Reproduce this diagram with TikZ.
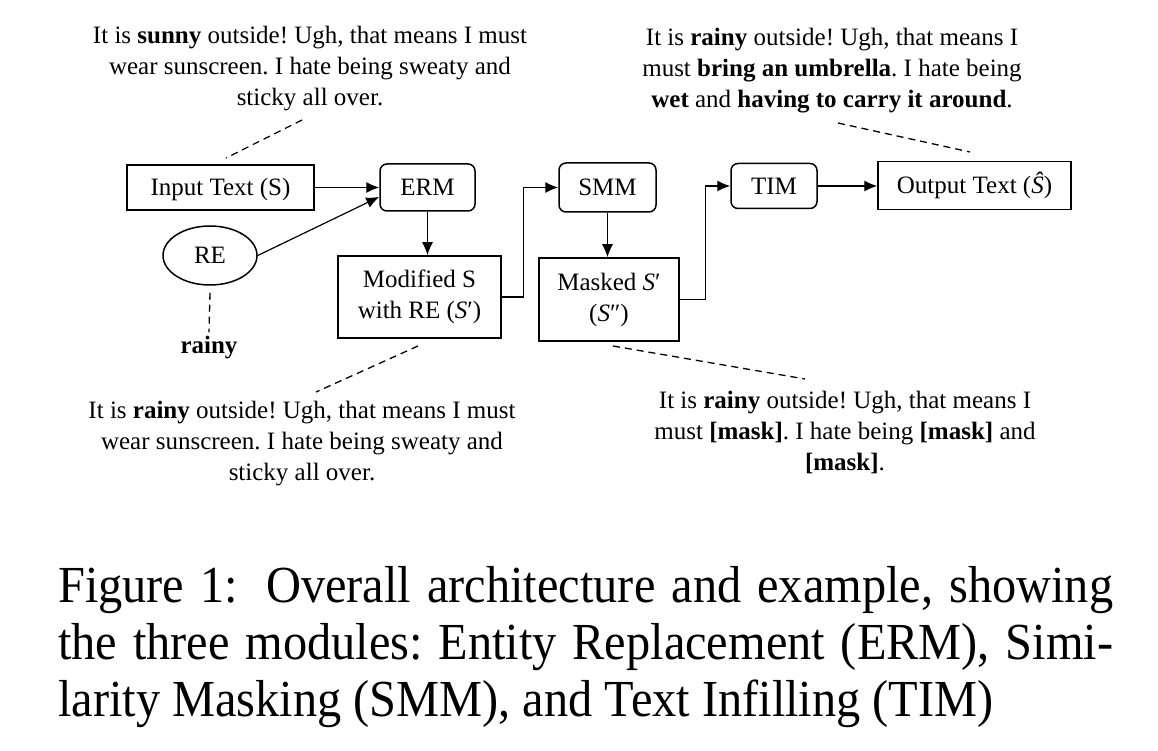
\documentclass[tikz,border=0pt]{standalone}
\usepackage{fontspec}
\setmainfont{Liberation Serif}
\newfontfamily\capfont[FakeStretch=0.93]{Liberation Serif}
\usetikzlibrary{arrows.meta,shapes.geometric}
\frenchspacing
\tikzset{
  txt/.style={font=\fontsize{25}{31}\selectfont, inner sep=0pt, align=center},
  sqbox/.style={draw, line width=1.5pt, font=\fontsize{25}{31}\selectfont, inner sep=0pt, align=center},
  onel/.style={text height=16.5pt, text depth=0pt},
  rbox/.style={sqbox, onel, rounded corners=7pt},
  arr/.style={line width=1.2pt, -{Latex[length=13pt,width=11pt]}},
  dsh/.style={line width=1.3pt, dash pattern=on 7pt off 5pt},
  capline/.style={anchor=base west, inner sep=0pt, font=\capfont\fontsize{52}{57}\selectfont}
}
\begin{document}
\begin{tikzpicture}[x=1pt,y=-1pt]
\useasboundingbox (0,0) rectangle (1158,751);
% main nodes
\node[sqbox, onel, minimum width=187pt, minimum height=45pt] (input) at (220.5,187.5) {Input Text (S)};
\node[rbox, minimum width=95pt, minimum height=47pt] (erm) at (427.5,187.5) {ERM};
\node[draw, ellipse, line width=1.5pt, minimum width=94pt, minimum height=59pt, inner sep=0pt, onel, font=\fontsize{25}{31}\selectfont] (re) at (210,255.5) {RE};
\node[txt, font=\bfseries\fontsize{25}{31}\selectfont] (rainy) at (209,348) {rainy};
\node[sqbox, minimum width=163pt, minimum height=82pt] (mod) at (419.5,297) {Modified S\\with RE (\textit{S}′)};
\node[rbox, minimum width=97pt, minimum height=49pt] (smm) at (607.5,187.5) {SMM};
\node[sqbox, minimum width=140pt, minimum height=83pt] (mask) at (609,299.5) {Masked \textit{S}′\\(\textit{S}″)};
\node[rbox, minimum width=86pt, minimum height=45pt] (tim) at (774,186) {TIM};
\node[sqbox, onel, minimum width=193pt, minimum height=48pt] (out) at (974.5,185.5) {Output Text (\textit{Ŝ})};
% annotations
\node[txt] (a1) at (310,69) {It is \textbf{sunny} outside! Ugh, that means I must\\wear sunscreen. I hate being sweaty and\\sticky all over.};
\node[txt] (a2) at (832,71) {It is \textbf{rainy} outside! Ugh, that means I\\must \textbf{bring an umbrella}. I hate being\\\textbf{wet} and \textbf{having to carry it around}.};
\node[txt] (a3) at (302,444) {It is \textbf{rainy} outside! Ugh, that means I must\\wear sunscreen. I hate being sweaty and\\sticky all over.};
\node[txt] (a4) at (845,432) {It is \textbf{rainy} outside! Ugh, that means I\\must \textbf{[mask]}. I hate being \textbf{[mask]} and\\\textbf{[mask]}.};
% dashed leader end points
\coordinate (d1a) at (302,120);
\coordinate (d1b) at (226,158);
\coordinate (d2a) at (838,123);
\coordinate (d2b) at (970,152);
\coordinate (d3a) at (418,346);
\coordinate (d3b) at (316,392);
\coordinate (d4a) at (613,346);
\coordinate (d4b) at (805,379);
\draw[dsh] (d1a) -- (d1b);
\draw[dsh] (d2a) -- (d2b);
\draw[dsh] (d3a) -- (d3b);
\draw[dsh] (d4a) -- (d4b);
\draw[dsh] ([yshift=-7pt]re.south) -- ([yshift=4pt]rainy.north);
% arrows
\draw[arr] (input.east) -- (erm.west);
\draw[arr] (re.east) -- (erm.191);
\draw[arr] (erm.south) -- (erm.south |- mod.north);
\draw[arr] (mod.east) -- ++(22,0) |- (smm.west);
\draw[arr] (smm.south) -- (smm.south |- mask.north);
\draw[arr] (mask.east) -- ++(26,0) |- (tim.west);
\draw[arr] (tim.east) -- (tim.east -| out.west);
% caption
\node[capline] (c1) at (58,602) {\makebox[1055pt][s]{Figure 1:\hspace{12pt} Overall architecture and example, showing}};
\node[capline] (c2) at (58,659) {\makebox[1055pt][s]{the three modules: Entity Replacement (ERM), Simi-}};
\node[capline] (c3) at (58,716) {larity Masking (SMM), and Text Infilling (TIM)};
\end{tikzpicture}
\end{document}
